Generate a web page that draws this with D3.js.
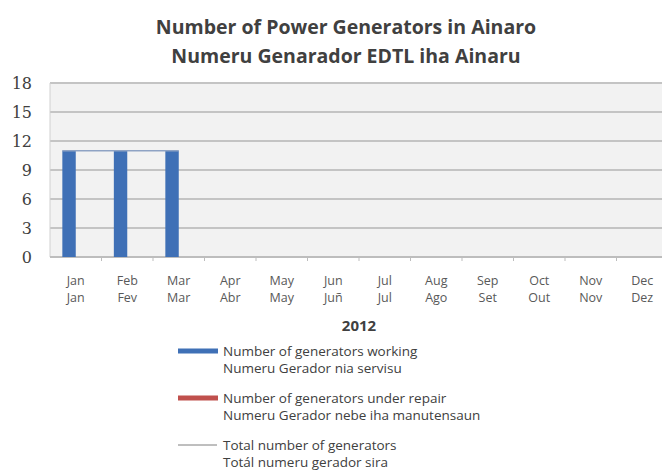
<!DOCTYPE html>
<html>
  <head>
    <meta charset="utf-8">
    <title>Power generators in Ainaro</title>
    <script src="https://d3js.org/d3.v7.min.js" charset="utf-8"></script>
    <style>
      body{ margin:0; background:#fff; }
      svg{ display:block; }
      .title{ font-family:'Open Sans',sans-serif; font-weight:700; fill:#404040; }
      .y-axis text{ font-family:'DejaVu Serif',serif; font-size:16px; fill:#404040; }
      .x-label{ font-family:'Open Sans',sans-serif; font-size:12.5px; fill:#595959; }
      .legend text{ font-family:'Open Sans',sans-serif; font-size:13.5px; fill:#404040; }
    </style>
  </head>
  <body>
    <div id="chart"></div>
    <script>

    //********************
    // data
    //********************

    var months = ["Jan","Feb","Mar","Apr","May","Jun","Jul","Aug","Sep","Oct","Nov","Dec"];
    var monthsTetun = ["Jan","Fev","Mar","Abr","May","Juñ","Jul","Ago","Set","Out","Nov","Dez"];
    var working = [11, 11, 11, null, null, null, null, null, null, null, null, null];
    var repair  = [0, 0, 0, null, null, null, null, null, null, null, null, null];
    var total   = [11, 11, 11, null, null, null, null, null, null, null, null, null];
    var yTicks = [0, 3, 6, 9, 12, 15, 18];
    var titleLines = ["Number of Power Generators in Ainaro", "Numeru Genarador EDTL iha Ainaru"];
    var yearLabel = "2012";
    var legendData = [
      {name:"Number of generators working", name2:"Numeru Gerador nia servisu", color:"#3f70b6", type:"bar"},
      {name:"Number of generators under repair", name2:"Numeru Gerador nebe iha manutensaun", color:"#c0504d", type:"bar"},
      {name:"Total number of generators", name2:"Totál numeru gerador sira", color:"#7f7f7f", type:"line"}
    ];

    //********************
    // setup, scales
    //********************

    var width = 662,
        height = 470,
        margin = {top: 83, right: -6, bottom: 213, left: 50};

    var svg = d3.select("#chart").append("svg").attr("width", width).attr("height", height);

    var yScale = d3.scaleLinear().domain([0, 18]).range([height - margin.bottom, margin.top]);

    var xScale = d3.scaleBand().domain(months)
        .range([margin.left, width - margin.right]);

    var xSub = d3.scaleBand().domain(["working", "repair"])
        .range([0, xScale.bandwidth()])
        .paddingInner(0)
        .paddingOuter(0.92);

    // title
    svg.selectAll("text.title")
        .data(titleLines)
        .enter().append("text")
        .attr("class", "title")
        .attr("x", 346)
        .attr("y", (d, i) => 34 + i * 29)
        .attr("text-anchor", "middle")
        .style("font-size", "19.5px")
        .text(d => d);

    // plot background
    svg.append("rect")
        .attr("x", margin.left)
        .attr("y", yScale(18))
        .attr("width", width - margin.left)
        .attr("height", yScale(0) - yScale(18))
        .attr("fill", "#f2f2f2");

    // grid lines
    svg.append("g")
        .selectAll("line")
        .data(yTicks.filter(d => d > 0))
        .enter().append("line")
        .attr("x1", margin.left)
        .attr("x2", width)
        .attr("y1", d => yScale(d))
        .attr("y2", d => yScale(d))
        .attr("stroke", "#c4c4c4")
        .attr("stroke-width", 2);

    // left axis line
    svg.append("line")
        .attr("x1", margin.left).attr("x2", margin.left)
        .attr("y1", yScale(18)).attr("y2", yScale(0))
        .attr("stroke", "#d0d0d0");

    // y axis
    var yAxis = svg.append("g").attr("class", "y-axis")
        .attr("transform", `translate(${margin.left}, 0)`)
        .call(d3.axisLeft(yScale).tickValues(yTicks).tickSize(0).tickPadding(18));
    yAxis.select(".domain").remove();

    // x axis baseline and ticks between categories
    svg.append("line")
        .attr("x1", margin.left).attr("x2", width)
        .attr("y1", yScale(0)).attr("y2", yScale(0))
        .attr("stroke", "#bdbdbd").attr("stroke-width", 2);

    svg.append("g")
        .selectAll("line")
        .data(months.slice(1))
        .enter().append("line")
        .attr("x1", d => xScale(d)).attr("x2", d => xScale(d))
        .attr("y1", yScale(0)).attr("y2", yScale(0) + 4)
        .attr("stroke", "#bdbdbd");

    // x labels (two languages)
    var xl = svg.append("g");
    xl.selectAll("text.en")
        .data(months).enter().append("text")
        .attr("class", "x-label en")
        .attr("x", d => xScale(d) + xScale.bandwidth() / 2)
        .attr("y", 285)
        .attr("text-anchor", "middle")
        .text(d => d);
    xl.selectAll("text.tet")
        .data(monthsTetun).enter().append("text")
        .attr("class", "x-label tet")
        .attr("x", (d, i) => xScale(months[i]) + xScale.bandwidth() / 2)
        .attr("y", 302)
        .attr("text-anchor", "middle")
        .text(d => d);

    svg.append("text")
        .attr("class", "title")
        .attr("x", (margin.left + width - margin.right) / 2)
        .attr("y", 331)
        .attr("text-anchor", "middle")
        .style("font-size", "15px")
        .text(yearLabel);

    //**************
    // bars
    //**************

    var barData = months.map((m, i) => ({month: m, working: working[i], repair: repair[i]}));
    var color = d3.scaleOrdinal().domain(["working", "repair"]).range([legendData[0].color, legendData[1].color]);

    svg.append("g")
        .selectAll("g")
        .data(barData.filter(d => d.working != null))
        .enter().append("g")
        .attr("transform", d => `translate(${xScale(d.month)},0)`)
        .selectAll("rect")
        .data(d => ["working", "repair"].map(k => ({key: k, value: d[k]})))
        .enter().append("rect")
        .attr("x", d => xSub(d.key))
        .attr("y", d => yScale(d.value))
        .attr("width", xSub.bandwidth())
        .attr("height", d => yScale(0) - yScale(d.value))
        .attr("fill", d => color(d.key));

    //**************
    // total line
    //**************

    var lineData = months.map((m, i) => ({month: m, total: total[i]})).filter(d => d.total != null);
    var line = d3.line()
        .x((d, i) => xScale(d.month) + xSub("working") + xSub.bandwidth() * i / (lineData.length - 1))
        .y(d => yScale(d.total));

    svg.append("path")
        .datum(lineData)
        .attr("fill", "none")
        .attr("stroke", "#8fa3c4")
        .attr("stroke-width", 1.5)
        .attr("d", line);

    //******
    // legend
    //******

    var legend = svg.append("g").attr("class", "legend").attr("transform", "translate(178,351)");

    var items = legend.selectAll("g")
        .data(legendData)
        .enter().append("g")
        .attr("transform", (d, i) => `translate(0, ${i * 47})`);

    items.filter(d => d.type == "bar").append("rect")
        .attr("x", 0).attr("y", -2.5)
        .attr("width", 40).attr("height", 5)
        .attr("fill", d => d.color);

    items.filter(d => d.type == "line").append("line")
        .attr("x1", 0).attr("x2", 39)
        .attr("y1", 0).attr("y2", 0)
        .attr("stroke", d => d.color)
        .attr("stroke-width", 1);

    items.append("text")
        .attr("x", 45).attr("y", 4.5)
        .text(d => d.name);
    items.append("text")
        .attr("x", 45).attr("y", 21.5)
        .text(d => d.name2);

    </script>
  </body>
</html>
